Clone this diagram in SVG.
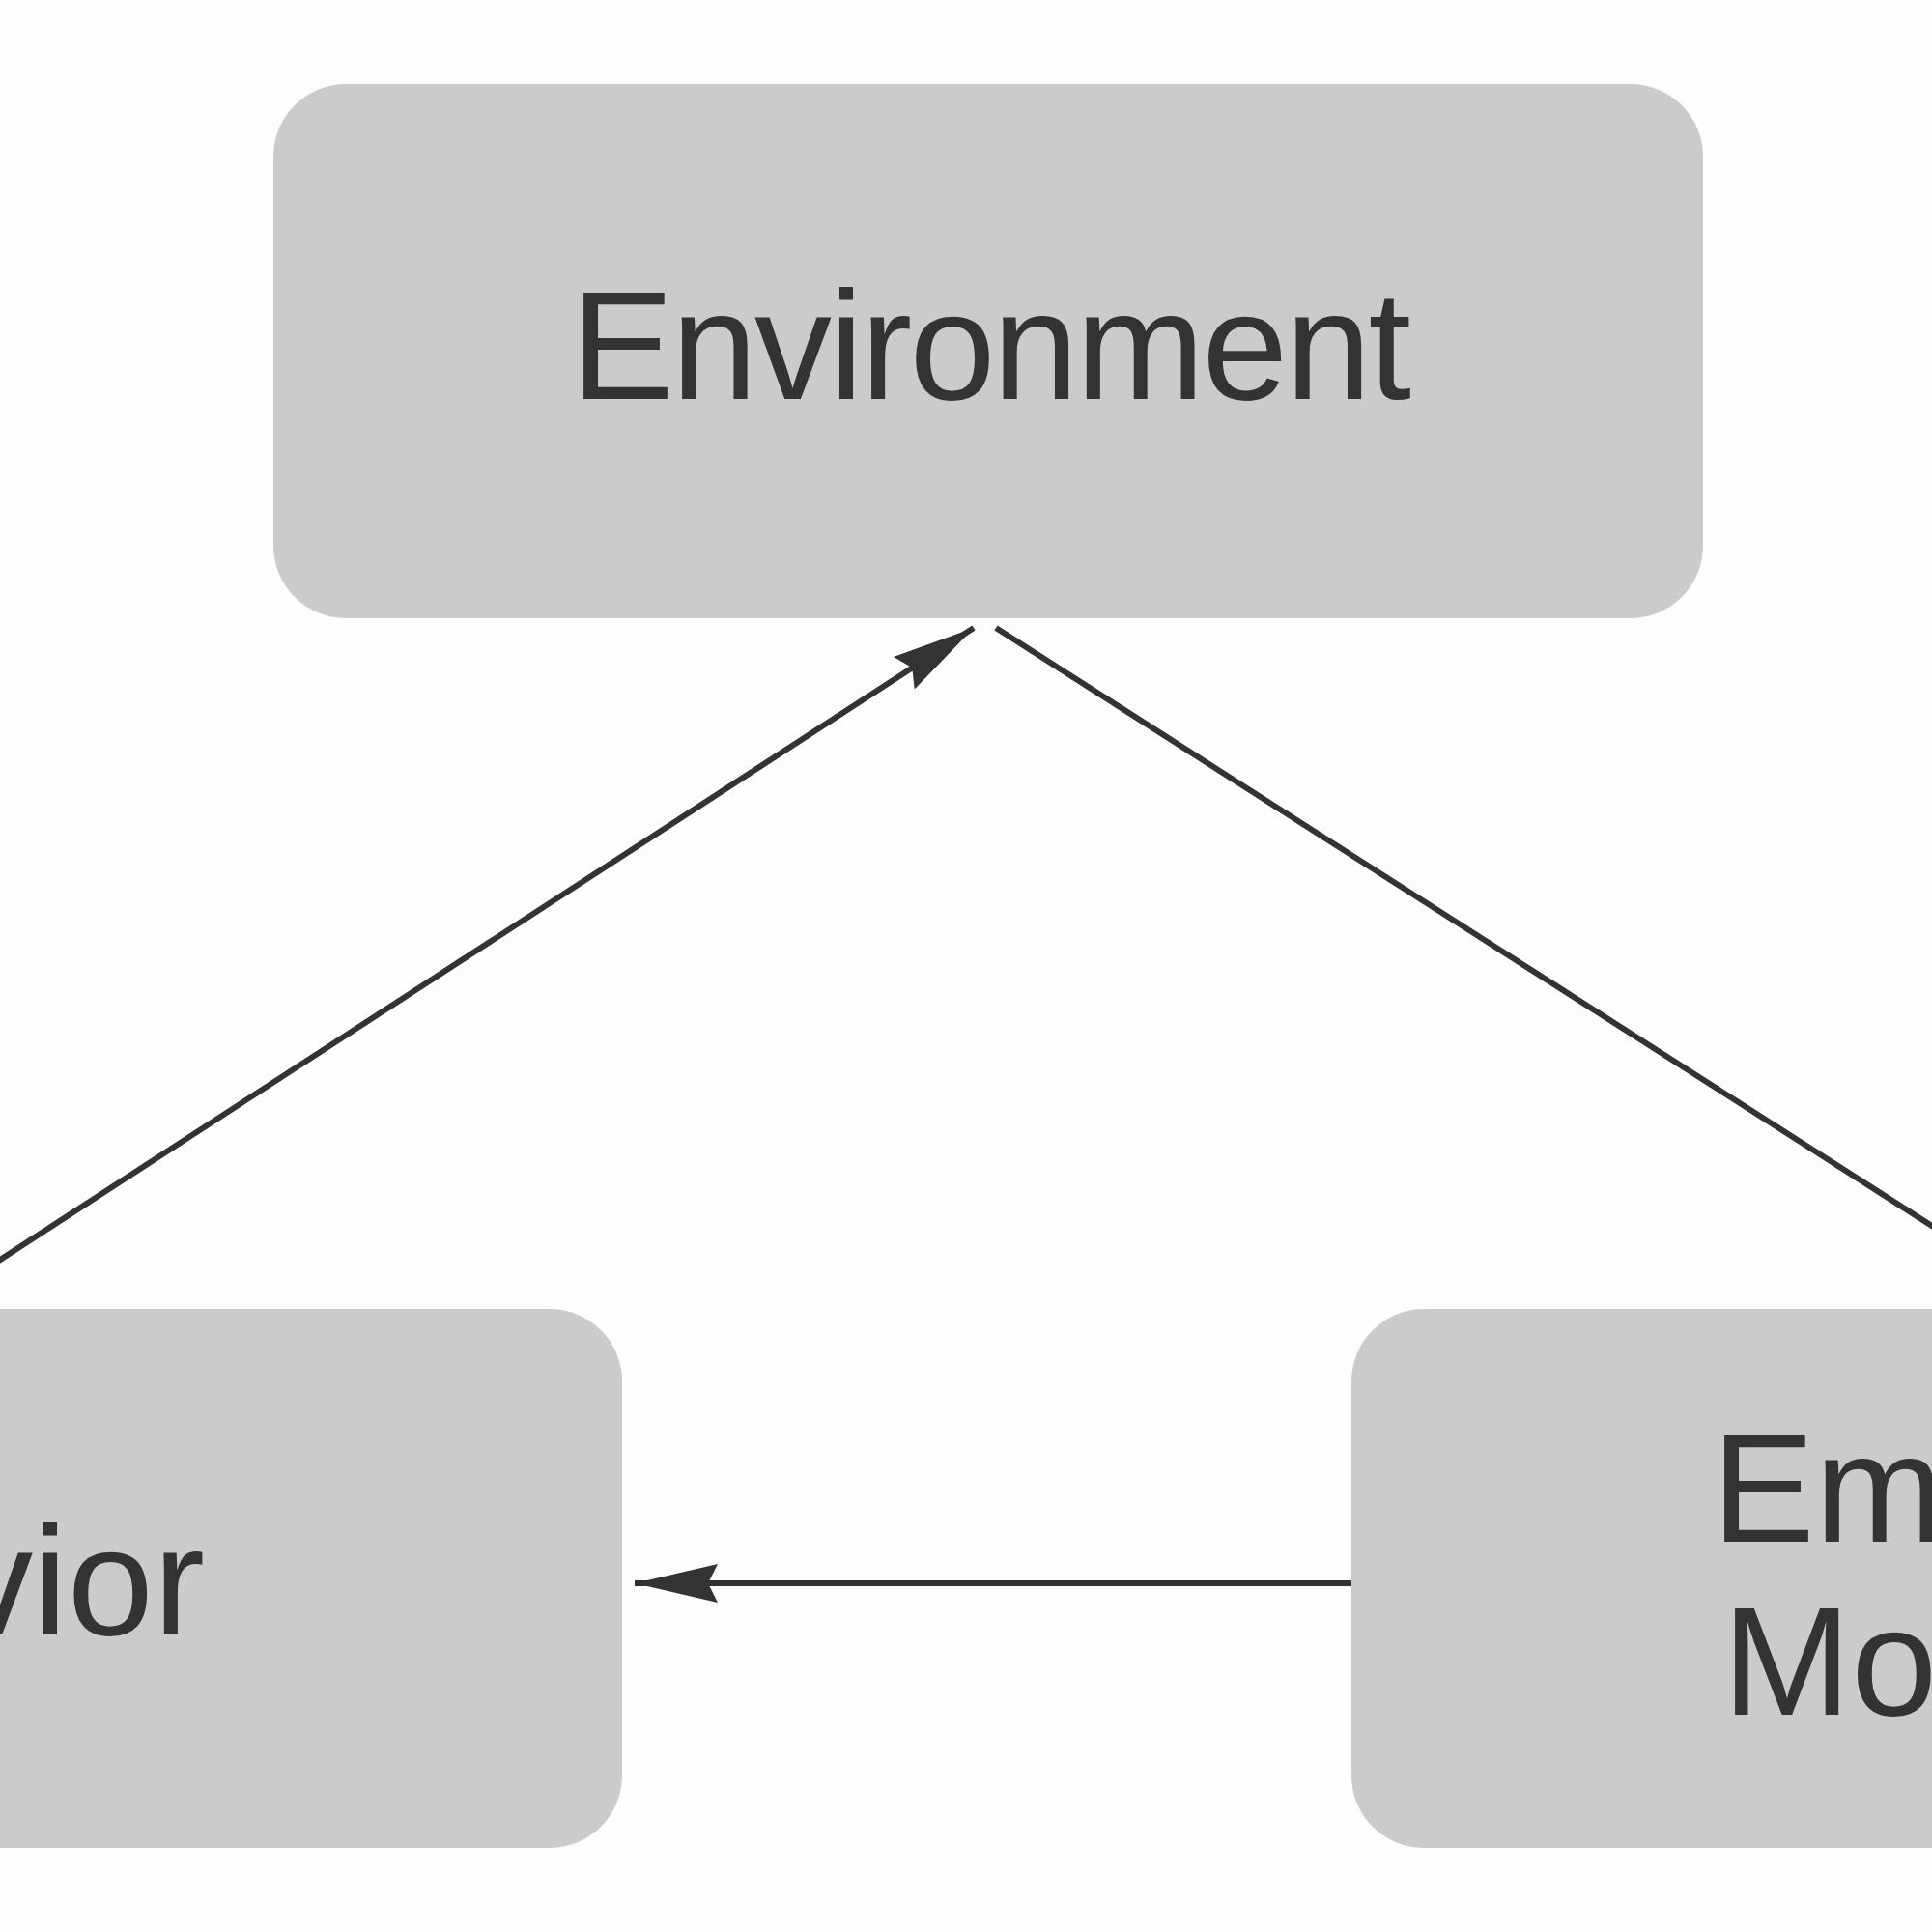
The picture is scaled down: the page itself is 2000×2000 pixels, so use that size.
<svg xmlns="http://www.w3.org/2000/svg" width="2000" height="2000" viewBox="0 0 2000 2000">
<style>
.box{fill:#cbcbcb}
.lbl{font-family:"Liberation Sans",Arial,sans-serif;font-size:160px;fill:#333}
.edge{stroke:#333;stroke-width:6;fill:none}
</style>
<defs>
<marker id="arr" markerUnits="userSpaceOnUse" markerWidth="90" markerHeight="46" refX="86" refY="23" orient="auto">
<path d="M0,3 L86,23 L0,43 L10,23 Z" fill="#333"/>
</marker>
</defs>
<rect width="2000" height="2000" fill="#fdfdfd"/>
<g id="environment">
<rect class="box" x="283" y="87" width="1480" height="553" rx="75"/>
<text class="lbl" x="1026" y="413" text-anchor="middle" textLength="870">Environment</text>
</g>
<g id="behavior">
<rect class="box" x="-200" y="1355" width="844" height="558" rx="75"/>
<text class="lbl" x="212" y="1692" text-anchor="end">Behavior</text>
</g>
<g id="emotion">
<rect class="box" x="1399" y="1355" width="800" height="558" rx="75"/>
<text class="lbl" x="1772" y="1596">Emotional</text>
<text class="lbl" x="1783" y="1775">Motivation</text>
</g>
<g id="connectors">
<path class="edge" d="M-100,1369 L1008,650" marker-end="url(#arr)"/>
<path class="edge" d="M1031,650 L2100,1333"/>
<path class="edge" d="M1399,1639 L657,1639" marker-end="url(#arr)"/>
</g>
</svg>
